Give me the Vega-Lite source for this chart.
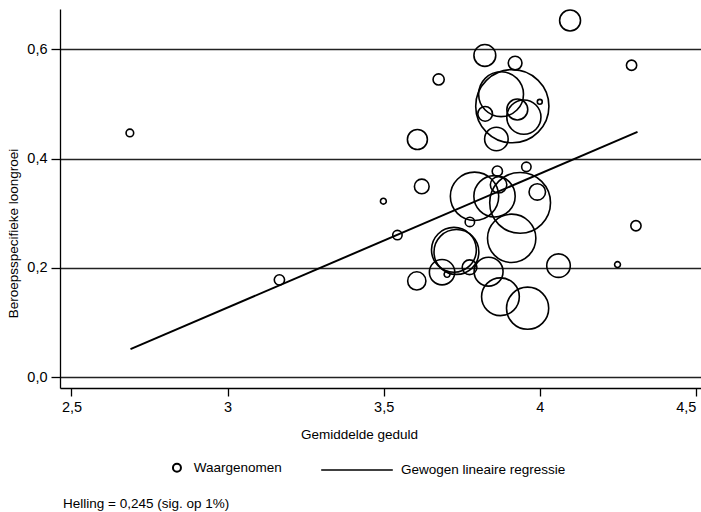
{
  "$schema": "https://vega.github.io/schema/vega-lite/v6.json",
  "width": 641,
  "height": 379,
  "autosize": {"type": "none"},
  "padding": {"left": 60, "top": 9, "right": 0, "bottom": 124},
  "background": "white",
  "config": {
    "font": "Liberation Sans",
    "view": {"stroke": null},
    "axis": {"labelColor": "black", "titleColor": "black", "domainColor": "black", "tickColor": "black", "domainWidth": 1.3, "tickWidth": 1.3, "labelFontSize": 14.5, "titleFontSize": 13.5, "titleFontWeight": "normal", "labelFont": "Liberation Sans", "titleFont": "Liberation Sans"},
    "legend": {"labelFont": "Liberation Sans", "labelFontSize": 13.5, "labelColor": "black", "padding": 0, "labelLimit": 300}
  },
  "title": {"text": "Helling = 0,245 (sig. op 1%)", "orient": "bottom", "anchor": "start", "frame": "group", "fontSize": 13.5, "fontWeight": "normal", "font": "Liberation Sans", "color": "black", "dx": 3, "offset": 20},
  "datasets": {
    "punten": [
      {"geduld": 2.687, "groei": 0.447, "gewicht": 1.05, "reeks": "Waargenomen"},
      {"geduld": 3.166, "groei": 0.178, "gewicht": 1.9, "reeks": "Waargenomen"},
      {"geduld": 3.499, "groei": 0.322, "gewicht": 0.62, "reeks": "Waargenomen"},
      {"geduld": 3.544, "groei": 0.260, "gewicht": 1.6, "reeks": "Waargenomen"},
      {"geduld": 3.608, "groei": 0.435, "gewicht": 7.2, "reeks": "Waargenomen"},
      {"geduld": 3.622, "groei": 0.349, "gewicht": 3.9, "reeks": "Waargenomen"},
      {"geduld": 3.606, "groei": 0.176, "gewicht": 6.0, "reeks": "Waargenomen"},
      {"geduld": 3.676, "groei": 0.545, "gewicht": 2.25, "reeks": "Waargenomen"},
      {"geduld": 3.687, "groei": 0.192, "gewicht": 11.6, "reeks": "Waargenomen"},
      {"geduld": 3.703, "groei": 0.188, "gewicht": 0.62, "reeks": "Waargenomen"},
      {"geduld": 3.725, "groei": 0.233, "gewicht": 36.3, "reeks": "Waargenomen"},
      {"geduld": 3.733, "groei": 0.229, "gewicht": 36.3, "reeks": "Waargenomen"},
      {"geduld": 3.775, "groei": 0.201, "gewicht": 3.9, "reeks": "Waargenomen"},
      {"geduld": 3.776, "groei": 0.284, "gewicht": 1.6, "reeks": "Waargenomen"},
      {"geduld": 3.791, "groei": 0.331, "gewicht": 42.2, "reeks": "Waargenomen"},
      {"geduld": 3.824, "groei": 0.589, "gewicht": 8.6, "reeks": "Waargenomen"},
      {"geduld": 3.825, "groei": 0.482, "gewicht": 3.9, "reeks": "Waargenomen"},
      {"geduld": 3.836, "groei": 0.193, "gewicht": 15.1, "reeks": "Waargenomen"},
      {"geduld": 3.855, "groei": 0.331, "gewicht": 30.8, "reeks": "Waargenomen"},
      {"geduld": 3.868, "groei": 0.352, "gewicht": 4.9, "reeks": "Waargenomen"},
      {"geduld": 3.864, "groei": 0.377, "gewicht": 1.9, "reeks": "Waargenomen"},
      {"geduld": 3.861, "groei": 0.436, "gewicht": 10.0, "reeks": "Waargenomen"},
      {"geduld": 3.874, "groei": 0.147, "gewicht": 25.7, "reeks": "Waargenomen"},
      {"geduld": 3.876, "groei": 0.518, "gewicht": 36.3, "reeks": "Waargenomen"},
      {"geduld": 3.912, "groei": 0.496, "gewicht": 96.7, "reeks": "Waargenomen"},
      {"geduld": 3.910, "groei": 0.254, "gewicht": 42.2, "reeks": "Waargenomen"},
      {"geduld": 3.921, "groei": 0.575, "gewicht": 3.4, "reeks": "Waargenomen"},
      {"geduld": 3.928, "groei": 0.490, "gewicht": 7.9, "reeks": "Waargenomen"},
      {"geduld": 3.937, "groei": 0.319, "gewicht": 66.7, "reeks": "Waargenomen"},
      {"geduld": 3.949, "groei": 0.476, "gewicht": 21.1, "reeks": "Waargenomen"},
      {"geduld": 3.957, "groei": 0.385, "gewicht": 1.6, "reeks": "Waargenomen"},
      {"geduld": 3.961, "groei": 0.126, "gewicht": 32.1, "reeks": "Waargenomen"},
      {"geduld": 3.992, "groei": 0.339, "gewicht": 4.9, "reeks": "Waargenomen"},
      {"geduld": 4.000, "groei": 0.504, "gewicht": 0.44, "reeks": "Waargenomen"},
      {"geduld": 4.060, "groei": 0.204, "gewicht": 10.0, "reeks": "Waargenomen"},
      {"geduld": 4.097, "groei": 0.653, "gewicht": 7.9, "reeks": "Waargenomen"},
      {"geduld": 4.249, "groei": 0.206, "gewicht": 0.62, "reeks": "Waargenomen"},
      {"geduld": 4.294, "groei": 0.571, "gewicht": 1.9, "reeks": "Waargenomen"},
      {"geduld": 4.308, "groei": 0.277, "gewicht": 1.9, "reeks": "Waargenomen"}
    ],
    "lijn": [
      {"geduld": 2.689, "groei": 0.051, "reeks": "Gewogen lineaire regressie"},
      {"geduld": 4.313, "groei": 0.449, "reeks": "Gewogen lineaire regressie"}
    ]
  },
  "encoding": {
    "x": {"field": "geduld", "type": "quantitative",
      "scale": {"domain": [2.4632, 4.5164], "nice": false, "zero": false},
      "axis": {"title": "Gemiddelde geduld", "values": [2.5, 3, 3.5, 4, 4.5], "labelExpr": "replace(toString(datum.value), '.', ',')", "grid": false, "tickSize": 8, "labelPadding": 4, "labelFlush": false, "labelAlign": {"condition": {"test": "datum.value >= 4.5", "value": "right"}, "value": "center"}, "titleX": 299, "titleY": 50, "titleBaseline": "alphabetic", "titleAlign": "center", "titleAnchor": null}},
    "y": {"field": "groei", "type": "quantitative",
      "scale": {"domain": [-0.0201, 0.674], "nice": false, "zero": false},
      "axis": {"title": "Beroepsspecifieke loongroei", "values": [0, 0.2, 0.4, 0.6], "labelExpr": "replace(format(datum.value, '.1f'), '.', ',')", "grid": true, "gridColor": "#222222", "gridWidth": 1.3, "tickSize": 9, "labelPadding": 4, "titleX": -43, "titleY": 224, "titleAngle": 270, "titleBaseline": "alphabetic", "titleAlign": "center"}}
  },
  "layer": [
    {
      "data": {"name": "punten"},
      "mark": {"type": "point", "filled": false, "stroke": "black", "strokeWidth": 1.6, "opacity": 1},
      "encoding": {
        "size": {"field": "gewicht", "type": "quantitative", "scale": {"type": "linear", "domain": [0, 100], "range": [0, 5542]}, "legend": null},
        "shape": {"field": "reeks", "type": "nominal", "scale": {"range": ["circle"]},
          "legend": {"orient": "none", "legendX": 110.2, "legendY": 452, "title": null, "symbolSize": 64, "symbolStrokeWidth": 2, "symbolStrokeColor": "black", "labelOffset": 10}}
      }
    },
    {
      "data": {"name": "lijn"},
      "mark": {"type": "line", "strokeWidth": 2},
      "encoding": {
        "color": {"field": "reeks", "type": "nominal", "scale": {"range": ["black"]},
          "legend": {"orient": "none", "legendX": 260, "legendY": 424, "title": null, "symbolType": "stroke", "symbolSize": 5127, "symbolStrokeWidth": 1.5, "labelOffset": 7}}
      }
    }
  ]
}
